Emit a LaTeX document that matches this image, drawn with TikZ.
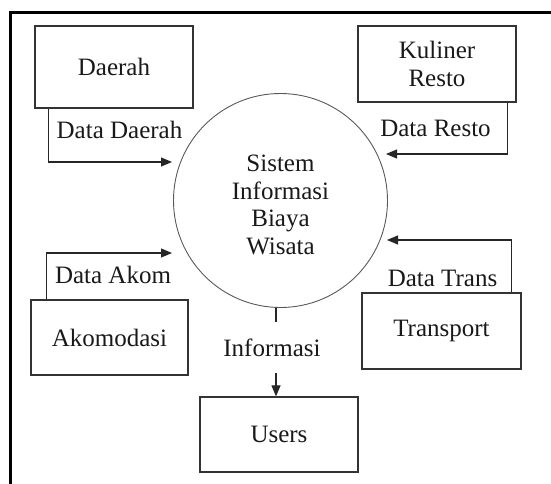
\documentclass[tikz,border=0pt]{standalone}
\usepackage{fontspec}
\setmainfont{Liberation Serif}
\usetikzlibrary{calc,arrows.meta}
\begin{document}
\begin{tikzpicture}[x=1pt,y=-1pt,
  every node/.style={font=\fontsize{25}{28}\selectfont, text=black!90},
  entity/.style={draw=black!80, line width=1.3pt, minimum width=158pt, minimum height=76pt, inner sep=0pt, align=center},
  proc/.style={draw=black!65, line width=0.9pt, circle, minimum size=214pt, inner sep=0pt, align=center},
  flow/.style={draw=black!85, line width=1.2pt, -{Triangle[length=11pt,width=9pt]}},
  flowlabel/.style={inner sep=0pt},
  frame/.style={draw=black, line width=3pt}
]
\useasboundingbox (0,0) rectangle (551,484);
% frame
\coordinate (fbl) at (10.5,484);
\coordinate (ftl) at (10.5,12.5);
\coordinate (ftr) at (551,12.5);
\draw[frame] (fbl) -- (ftl) -- (ftr);

% process
\node[proc] (sys) at (280.5,200.5) {};
\node[align=center, font=\fontsize{25}{27.5}\selectfont] (systext) at (280.5,205) {Sistem\\Informasi\\Biaya\\Wisata};

% entities
\node[entity, minimum height=82pt] (daerah) at (114,67) {Daerah};
\node[entity] (kuliner) at (437,64) {Kuliner\\Resto};
\node[entity, minimum width=159pt] (transport) at (441.5,331) {Transport};
\node[entity, minimum width=157pt, minimum height=75pt] (akom) at (109.5,337.5) {Akomodasi};
\node[entity, minimum height=75pt] (users) at (279,434.5) {Users};

% free ends
\coordinate (ddS) at ($(daerah.south west)+(14,0)$);
\coordinate (ddE) at (172,162);
\coordinate (drS) at ($(kuliner.south east)+(-9,0)$);
\coordinate (drE) at (386,154);
\coordinate (dtS) at ($(transport.north east)+(-10.5,0)$);
\coordinate (dtE) at (387,240);
\coordinate (daS) at ($(akom.north west)+(16,0)$);
\coordinate (daE) at (172,253);

\draw[flow] (ddS) |- (ddE);
\draw[flow] (drS) |- (drE);
\draw[flow] (dtS) |- (dtE);
\draw[flow] (daS) |- (daE);

% labels
\node[flowlabel] (lDD) at (119.5,130) {Data Daerah};
\node[flowlabel] (lDR) at (435.5,128) {Data Resto};
\node[flowlabel] (lDT) at (442.5,278) {Data Trans};
\node[flowlabel] (lDA) at (113,275) {Data Akom};

% Informasi
\node[flowlabel, minimum height=51pt] (lInfo) at (272,347.5) {Informasi};
\coordinate (iTop) at (276,322);
\coordinate (iBot) at (276,373);
\draw[draw=black!85, line width=1.2pt] (sys.south -| iTop) -- (iTop);
\draw[flow] (iBot) -- (iBot |- users.north);
\end{tikzpicture}
\end{document}
